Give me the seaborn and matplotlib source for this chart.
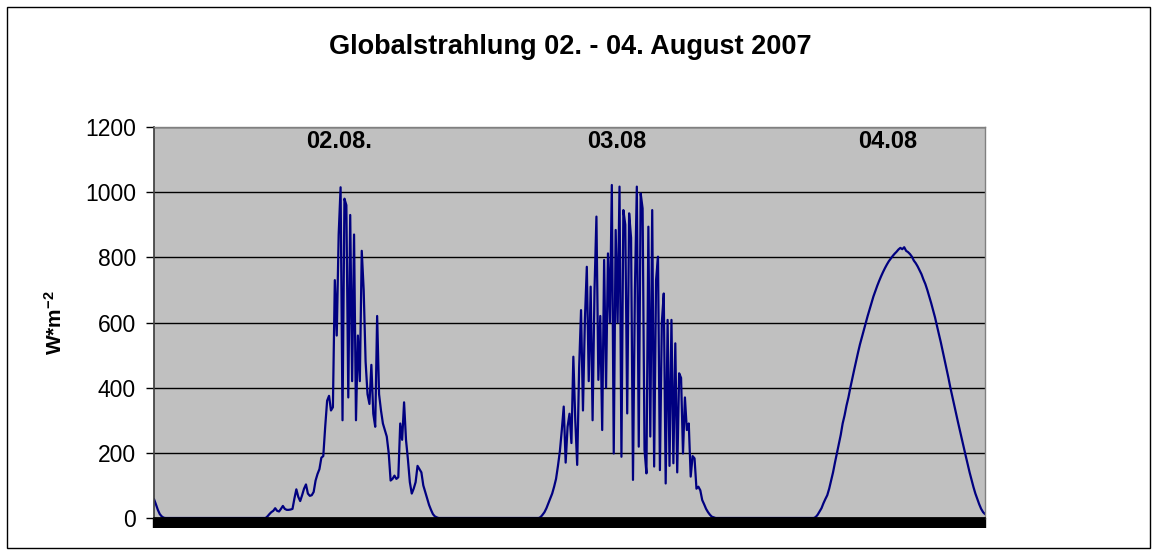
import numpy as np
import pandas as pd
import matplotlib
matplotlib.use("Agg")
import matplotlib.pyplot as plt
import seaborn as sns
from matplotlib.patches import Rectangle

# global radiation in W/m^2, one value every 10 minutes,
# from the evening of 01.08. to the evening of 04.08.2007
evening_0108 = [58, 42, 25, 12, 5, 1,
                0, 0, 0, 0, 0, 0, 0, 0, 0, 0, 0, 0, 0, 0, 0, 0, 0, 0, 0, 0, 0, 0, 0, 0, 0, 0,
                0, 0, 0, 0, 0, 0, 0, 0, 0, 0, 0, 0, 0, 0, 0, 0, 0, 0, 0, 0, 0, 0, 0, 0, 0, 0]
day_0208 = [0, 5, 12, 18, 22, 30, 22, 20, 28, 37,
            28, 25, 25, 26, 28, 60, 88, 65, 52, 70,
            90, 103, 75, 68, 70, 80, 115, 135, 150, 185,
            190, 280, 360, 375, 330, 340, 730, 560, 870, 1015,
            300, 980, 960, 370, 930, 420, 870, 300, 560, 420,
            820, 700, 480, 380, 350, 470, 320, 280, 620, 380,
            330, 290, 270, 250, 200, 115, 120, 130, 120, 125,
            290, 240, 355, 240, 180, 110, 75, 90, 110, 160,
            150, 140, 100, 80, 60, 40, 25, 12, 5, 2,
            0]
night_0203 = [0, 0, 0, 0, 0, 0, 0, 0, 0, 0, 0, 0, 0, 0, 0, 0, 0, 0, 0, 0, 0, 0, 0, 0, 0, 0,
              0, 0, 0, 0, 0, 0, 0, 0, 0, 0, 0, 0, 0, 0, 0, 0, 0, 0, 0, 0, 0, 0, 0, 0, 0]
day_0308 = [0, 3, 10, 18, 30, 45, 60, 75, 96, 120,
            160, 205, 270, 342, 170, 280, 320, 230, 495, 300,
            163, 460, 638, 330, 608, 771, 420, 710, 300, 700,
            925, 424, 620, 270, 792, 400, 812, 600, 1022, 198,
            884, 600, 1017, 188, 945, 900, 321, 935, 860, 117,
            700, 1017, 219, 996, 950, 209, 137, 894, 250, 945,
            158, 730, 802, 147, 600, 689, 106, 608, 160, 608,
            168, 536, 140, 444, 430, 198, 370, 270, 290, 127,
            190, 183, 90, 96, 85, 55, 42, 28, 18, 10,
            4, 2, 0]
night_0304 = [0, 0, 0, 0, 0, 0, 0, 0, 0, 0, 0, 0, 0, 0, 0, 0, 0, 0, 0, 0, 0, 0, 0, 0, 0,
              0, 0, 0, 0, 0, 0, 0, 0, 0, 0, 0, 0, 0, 0, 0, 0, 0, 0, 0, 0, 0, 0, 0, 0, 0]
day_0408 = [0, 3, 10, 20, 30, 45, 58, 70, 90, 115,
            140, 170, 198, 225, 255, 290, 315, 345, 370, 400,
            428, 455, 482, 508, 533, 555, 578, 600, 620, 640,
            660, 680, 697, 713, 728, 742, 755, 767, 778, 788,
            796, 804, 811, 817, 824, 829, 825, 831, 820, 816,
            810, 802, 790, 782, 772, 760, 748, 732, 718, 700,
            680, 660, 638, 616, 590, 565, 540, 512, 485, 458,
            430, 400, 373, 346, 320, 293, 267, 240, 215, 190,
            165, 140, 117, 95, 75, 58, 42, 28, 18, 12]

day_labels = ["02.08.", "03.08", "04.08"]
day_label_hours = [16.0, 40.1, 63.6]
y_ticks = [0, 200, 400, 600, 800, 1000, 1200]
title = "Globalstrahlung 02. - 04. August 2007"

radiation = evening_0108 + day_0208 + night_0203 + day_0308 + night_0304 + day_0408
df = pd.DataFrame({"hour": np.arange(len(radiation)) / 6.0, "W": radiation})

sns.set_theme(style="white")
plt.rcParams["font.family"] = ["Liberation Sans", "DejaVu Sans"]
plt.rcParams["mathtext.fontset"] = "custom"
plt.rcParams["mathtext.bf"] = "Liberation Sans:bold"
plt.rcParams["mathtext.rm"] = "Liberation Sans:bold"
plt.rcParams["mathtext.default"] = "bf"
plt.rcParams["text.color"] = "black"
plt.rcParams["axes.labelcolor"] = "black"
plt.rcParams["xtick.color"] = "black"
plt.rcParams["ytick.color"] = "black"

W, H = 1157, 555
fig = plt.figure(figsize=(W / 100, H / 100), dpi=100)
fig.patch.set_facecolor("white")
ax = fig.add_axes([154 / W, 37 / H, 831 / W, 391 / H])

sns.lineplot(data=df, x="hour", y="W", color="#000080", linewidth=1.6, ax=ax)

ax.set_facecolor("#C0C0C0")
ax.set_xlim(0, df["hour"].iloc[-1])
ax.set_ylim(0, 1200)
ax.set_yticks(y_ticks)
ax.yaxis.grid(True, color="black", linewidth=1)
ax.set_axisbelow(True)
ax.set_xlabel("")

# excel-like category ticks, one per value -> black band under the axis
ax.set_xticks(df["hour"].values)
ax.tick_params(axis="x", bottom=True, length=7.5, width=1.7, color="black", labelbottom=False)
ax.tick_params(axis="y", left=True, length=6, width=1, color="black", labelsize=16.5, pad=7)

for side in ["top", "right"]:
    ax.spines[side].set_color("#808080")
    ax.spines[side].set_linewidth(1)
ax.spines["left"].set_color("#404040")
ax.spines["bottom"].set_color("black")

ax.set_ylabel("W*m$^{-2}$", fontsize=15, fontweight="bold")
ax.yaxis.set_label_coords(-0.106, 0.5)

for lab, hr in zip(day_labels, day_label_hours):
    ax.text(hr, 1155, lab, ha="center", va="center", fontsize=17, fontweight="bold")

fig.text(570 / W, 1 - 47 / H, title, ha="center", va="center", fontsize=19.5, fontweight="bold")

fig.add_artist(Rectangle((7 / W, 7 / H), 1143 / W, 541 / H, transform=fig.transFigure,
                         fill=False, edgecolor="black", linewidth=1))

fig.savefig("out.png", dpi=100)
